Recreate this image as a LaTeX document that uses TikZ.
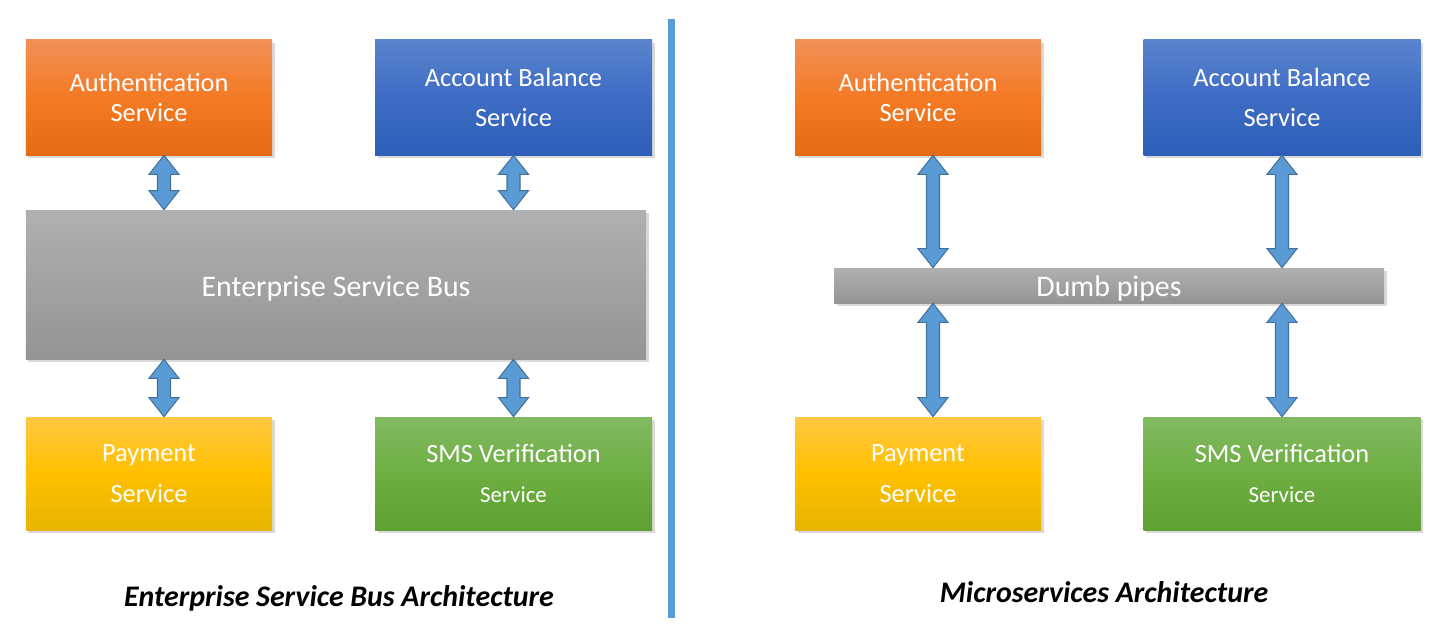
\documentclass[tikz,border=0pt]{standalone}
\usepackage{fontspec}
\setmainfont{Carlito}
\usepackage{tikz}
\usetikzlibrary{calc, shadows}

\definecolor{arrowfill}{RGB}{91,155,213}
\definecolor{arrowline}{RGB}{65,113,156}

% double block arrow between two points
\newcommand{\bidir}[2]{%
  \draw[barrow] (#1) -- ++(15,19) -- ++(-8.5,0) -- ($(#2)+(6.5,-19)$) -- ++(8.5,0)
    -- (#2) -- ++(-15,-19) -- ++(8.5,0) -- ($(#1)+(-6.5,19)$) -- ++(-8.5,0) -- cycle;}

\begin{document}
\begin{tikzpicture}[x=0.2mm, y=-0.2mm,
    box/.style={inner sep=0pt, text=white, align=center, minimum height=23mm,
      font=\fontsize{15}{23}\selectfont,
      drop shadow={shadow xshift=0.5mm, shadow yshift=-0.6mm, opacity=0.3}},
    auth/.style={box, minimum width=49.2mm, top color={rgb,255:red,242;green,144;blue,88},
      bottom color={rgb,255:red,228;green,106;blue,20}, middle color={rgb,255:red,244;green,122;blue,36}},
    acc/.style={box, minimum width=55.4mm, top color={rgb,255:red,90;green,132;blue,206},
      bottom color={rgb,255:red,46;green,94;blue,184}, middle color={rgb,255:red,62;green,108;blue,196}},
    pay/.style={box, minimum width=49.2mm, top color={rgb,255:red,255;green,200;blue,66},
      bottom color={rgb,255:red,230;green,180;blue,0}, middle color={rgb,255:red,255;green,192;blue,0}},
    sms/.style={box, minimum width=55.4mm, top color={rgb,255:red,130;green,186;blue,98},
      bottom color={rgb,255:red,94;green,160;blue,50}, middle color={rgb,255:red,110;green,174;blue,66}},
    bus/.style={box, font=\fontsize{17}{20}\selectfont, top color={rgb,255:red,176;green,176;blue,176},
      bottom color={rgb,255:red,148;green,148;blue,148}},
    barrow/.style={fill=arrowfill, draw=arrowline, line width=0.6pt, line join=miter},
    caption/.style={font=\fontsize{17}{20}\selectfont\bfseries\itshape},
    divider/.style={draw=arrowfill, line width=1.3mm}]
  \useasboundingbox (0,0) rectangle (1453,636);

  % left: enterprise service bus
  \node[auth] (authL) at (149,97.5) {Authentication\\[-6pt]Service};
  \node[acc] (accL) at (513.5,97.5) {Account Balance\\Service};
  \node[bus, minimum width=124mm, minimum height=29.8mm] (esb) at (336,284.5) {\raisebox{-0.8mm}[\height][\depth]{Enterprise Service Bus}};
  \node[pay, minimum height=22.6mm] (payL) at (149,473.5) {Payment\\Service};
  \node[sms, minimum height=22.6mm] (smsL) at (513.5,473.5) {SMS Verification\\{\fontsize{13}{15}\selectfont Service}};
  \node[caption] (capL) at (339,598) {Enterprise Service Bus Architecture};

  \bidir{[xshift=3mm]authL.south}{[xshift=3mm]authL.south |- esb.north}
  \bidir{accL.south}{accL.south |- esb.north}
  \bidir{[xshift=3mm]payL.north |- esb.south}{[xshift=3mm]payL.north}
  \bidir{smsL.north |- esb.south}{smsL.north}

  % divider
  \coordinate (divtop) at (671.5,19);
  \coordinate (divbot) at (671.5,618);
  \draw[divider] (divtop) -- (divbot);

  % right: microservices
  \node[auth] (authR) at (918,97.5) {Authentication\\[-6pt]Service};
  \node[acc] (accR) at (1282,97.5) {Account Balance\\Service};
  \node[bus, minimum width=110mm, minimum height=7mm] (pipes) at (1109,285.5) {\raisebox{-0.7mm}[\height][\depth]{Dumb pipes}};
  \node[pay, minimum height=22.6mm] (payR) at (918,473.5) {Payment\\Service};
  \node[sms, minimum height=22.6mm] (smsR) at (1282,473.5) {SMS Verification\\{\fontsize{13}{15}\selectfont Service}};
  \node[caption] (capR) at (1104,592) {Microservices Architecture};

  \bidir{[xshift=3mm]authR.south}{[xshift=3mm]authR.south |- pipes.north}
  \bidir{accR.south}{accR.south |- pipes.north}
  \bidir{[xshift=3mm]payR.north |- pipes.south}{[xshift=3mm]payR.north}
  \bidir{smsR.north |- pipes.south}{smsR.north}
\end{tikzpicture}
\end{document}
